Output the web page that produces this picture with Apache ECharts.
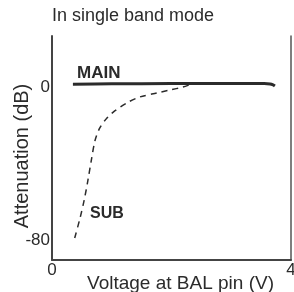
<!DOCTYPE html>
<html>
<head>
<meta charset="utf-8">
<script src="https://cdn.jsdelivr.net/npm/echarts@6/dist/echarts.min.js"></script>
<style>
  html, body { margin: 0; padding: 0; background: #fff; }
  #main { width: 294px; height: 292px; }
</style>
</head>
<body>
<div id="main"></div>
<script>
// MAIN attenuation (solid)
let mainVolt = [0.35, 1.0, 2.0, 3.0, 3.55, 3.65, 3.7, 3.73];
let mainDb = [1.5, 1.7, 1.8, 1.8, 1.8, 1.6, 1.1, 0.5];

// SUB attenuation (dashed)
let subVolt = [0.38, 0.47, 0.54, 0.60, 0.66, 0.72, 0.80, 0.92, 1.05, 1.27, 1.47, 1.76, 1.97, 2.19, 2.34];
let subDb = [-79, -68.5, -59, -49, -38, -28, -21.4, -16.2, -12.5, -8, -5.2, -3.1, -1.6, 0, 1.6];

let xTicks = [0, 4];
let yTicks = [0, -80];

let font = 'Liberation Sans';
let ink = '#2b2b2b';

function pairs(xs, ys) {
    return xs.map((x, i) => [x, ys[i]]);
}

let myChart = echarts.init(document.getElementById('main'));
let option = {
    animation: false,
    backgroundColor: '#fff',
    title: {
        text: 'In single band mode',
        left: 47,
        top: 2,
        textStyle: { fontFamily: font, fontSize: 18, fontWeight: 'normal', color: ink }
    },
    grid: { left: 52, right: 3, top: 36, bottom: 32, containLabel: false, outerBoundsMode: 'none' },
    xAxis: {
        type: 'value',
        min: 0,
        max: 4,
        name: 'Voltage at BAL pin (V)',
        nameLocation: 'middle',
        nameGap: 14,
        nameMoveOverlap: false,
        nameTextStyle: { fontFamily: font, fontSize: 19, color: ink, padding: [0, 0, 0, 18] },
        axisLine: { onZero: false, lineStyle: { color: '#444', width: 2 } },
        axisTick: { show: false },
        splitLine: { show: false },
        axisLabel: { customValues: xTicks, fontFamily: font, fontSize: 17, color: ink, margin: 2 }
    },
    yAxis: [{
        type: 'value',
        min: -90.5,
        max: 26.7,
        name: 'Attenuation (dB)',
        nameLocation: 'middle',
        nameGap: 20,
        nameRotate: 90,
        nameMoveOverlap: false,
        nameTextStyle: { fontFamily: font, fontSize: 20, color: ink, padding: [0, 16, 0, 0] },
        axisLine: { show: true, onZero: false, lineStyle: { color: '#444', width: 2 } },
        axisTick: { show: false },
        splitLine: { show: false },
        axisLabel: { customValues: yTicks, fontFamily: font, fontSize: 17, color: ink, margin: 2 }
    }, {
        type: 'value',
        position: 'right',
        min: -90.5,
        max: 26.7,
        axisLine: { show: true, onZero: false, lineStyle: { color: '#555', width: 1.5 } },
        axisTick: { show: false },
        axisLabel: { show: false },
        splitLine: { show: false }
    }],
    series: [{
        name: 'MAIN',
        type: 'line',
        data: pairs(mainVolt, mainDb),
        smooth: 0.3,
        symbol: 'none',
        lineStyle: { color: ink, width: 3 }
    }, {
        name: 'SUB',
        type: 'line',
        data: pairs(subVolt, subDb),
        smooth: 0.3,
        symbol: 'none',
        lineStyle: { color: ink, width: 1.5, type: [6, 5] }
    }],
    graphic: [{
        type: 'text',
        left: 77,
        top: 65,
        style: { text: 'MAIN', fontFamily: font, fontSize: 17, fontWeight: 'bold', fill: ink }
    }, {
        type: 'text',
        left: 90,
        top: 206,
        style: { text: 'SUB', fontFamily: font, fontSize: 16, fontWeight: 'bold', fill: ink }
    }]
};
myChart.setOption(option);
</script>
</body>
</html>
